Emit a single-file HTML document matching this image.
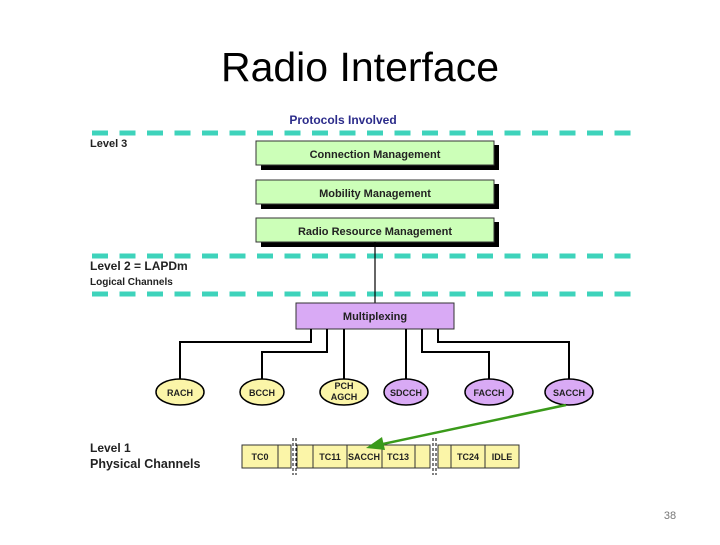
<!DOCTYPE html>
<html><head><style>
body{margin:0;width:720px;height:540px;background:#fff;overflow:hidden}
</style></head><body>
<svg width="720" height="540" xmlns="http://www.w3.org/2000/svg" font-family="Liberation Sans, Arial, sans-serif">
<text x="360" y="81" text-anchor="middle" font-size="41" fill="#000" font-family="Liberation Sans, sans-serif">Radio Interface</text>
<text x="343" y="124" text-anchor="middle" font-size="12" font-weight="bold" fill="#2b2b8a">Protocols Involved</text>
<g stroke="#3ed3bb" stroke-width="5" stroke-dasharray="16,11.5">
<line x1="92" y1="133" x2="632" y2="133"/>
<line x1="92" y1="256" x2="632" y2="256"/>
<line x1="92" y1="294" x2="632" y2="294"/>
</g>
<g font-size="11" font-weight="bold" fill="#222">
<text x="90" y="147">Level 3</text>
<text x="90" y="270" font-size="12">Level 2 = LAPDm</text>
<text x="90" y="285" font-size="10">Logical Channels</text>
<text x="90" y="452" font-size="12">Level 1</text>
<text x="90" y="468" font-size="12.5">Physical Channels</text>
</g>
<g>
<rect x="261" y="145" width="238" height="25" fill="#000"/>
<rect x="256" y="141" width="238" height="24" fill="#ccffb8" stroke="#333"/>
<rect x="261" y="184" width="238" height="25" fill="#000"/>
<rect x="256" y="180" width="238" height="24" fill="#ccffb8" stroke="#333"/>
<rect x="261" y="222" width="238" height="25" fill="#000"/>
<rect x="256" y="218" width="238" height="24" fill="#ccffb8" stroke="#333"/>
</g>
<g font-size="11" font-weight="bold" fill="#222" text-anchor="middle">
<text x="375" y="158">Connection Management</text>
<text x="375" y="197">Mobility Management</text>
<text x="375" y="235">Radio Resource Management</text>
</g>
<line x1="375" y1="242" x2="375" y2="303" stroke="#000" stroke-width="1.2"/>
<rect x="296" y="303" width="158" height="26" fill="#d9aaf5" stroke="#333"/>
<text x="375" y="320" text-anchor="middle" font-size="11" font-weight="bold" fill="#222">Multiplexing</text>
<g stroke="#000" stroke-width="2" fill="none">
<polyline points="311,329 311,342 180,342 180,379"/>
<polyline points="327,329 327,352 262,352 262,379"/>
<polyline points="344,329 344,379"/>
<polyline points="406,329 406,379"/>
<polyline points="422,329 422,352 489,352 489,379"/>
<polyline points="438,329 438,342 569,342 569,379"/>
</g>
<g stroke="#000" stroke-width="1.5">
<ellipse cx="180" cy="392" rx="24" ry="13" fill="#fbf5a8"/>
<ellipse cx="262" cy="392" rx="22" ry="13" fill="#fbf5a8"/>
<ellipse cx="344" cy="392" rx="24" ry="13" fill="#fbf5a8"/>
<ellipse cx="406" cy="392" rx="22" ry="13" fill="#d9aaf5"/>
<ellipse cx="489" cy="392" rx="24" ry="13" fill="#d9aaf5"/>
<ellipse cx="569" cy="392" rx="24" ry="13" fill="#d9aaf5"/>
</g>
<g font-size="9" fill="#222" text-anchor="middle" font-weight="600">
<text x="180" y="396">RACH</text>
<text x="262" y="396">BCCH</text>
<text x="344" y="389">PCH</text>
<text x="344" y="400">AGCH</text>
<text x="406" y="396">SDCCH</text>
<text x="489" y="396">FACCH</text>
<text x="569" y="396">SACCH</text>
</g>
<g fill="#fbf5a8" stroke="#333" stroke-width="1">
<rect x="242" y="445" width="36" height="23"/>
<rect x="278" y="445" width="13" height="23"/>
<rect x="297" y="445" width="16" height="23"/>
<rect x="313" y="445" width="34" height="23"/>
<rect x="347" y="445" width="35" height="23"/>
<rect x="382" y="445" width="33" height="23"/>
<rect x="415" y="445" width="15" height="23"/>
<rect x="438" y="445" width="13" height="23"/>
<rect x="451" y="445" width="34" height="23"/>
<rect x="485" y="445" width="34" height="23"/>
</g>
<g stroke="#000" stroke-width="1" stroke-dasharray="3,2">
<line x1="293" y1="438" x2="293" y2="475"/><line x1="296" y1="438" x2="296" y2="475"/>
<line x1="433" y1="438" x2="433" y2="475"/><line x1="436" y1="438" x2="436" y2="475"/>
</g>
<g font-size="9" fill="#222" text-anchor="middle" font-weight="600">
<text x="260" y="460">TC0</text>
<text x="330" y="460">TC11</text>
<text x="364" y="460">SACCH</text>
<text x="398" y="460">TC13</text>
<text x="468" y="460">TC24</text>
<text x="502" y="460">IDLE</text>
</g>
<line x1="566" y1="405" x2="378" y2="445" stroke="#3a9a1a" stroke-width="2.5"/>
<polygon points="366,448 382,437 385,450" fill="#3a9a1a"/>
<text x="670" y="519" text-anchor="middle" font-size="11" fill="#777">38</text>
</svg>
</body></html>
